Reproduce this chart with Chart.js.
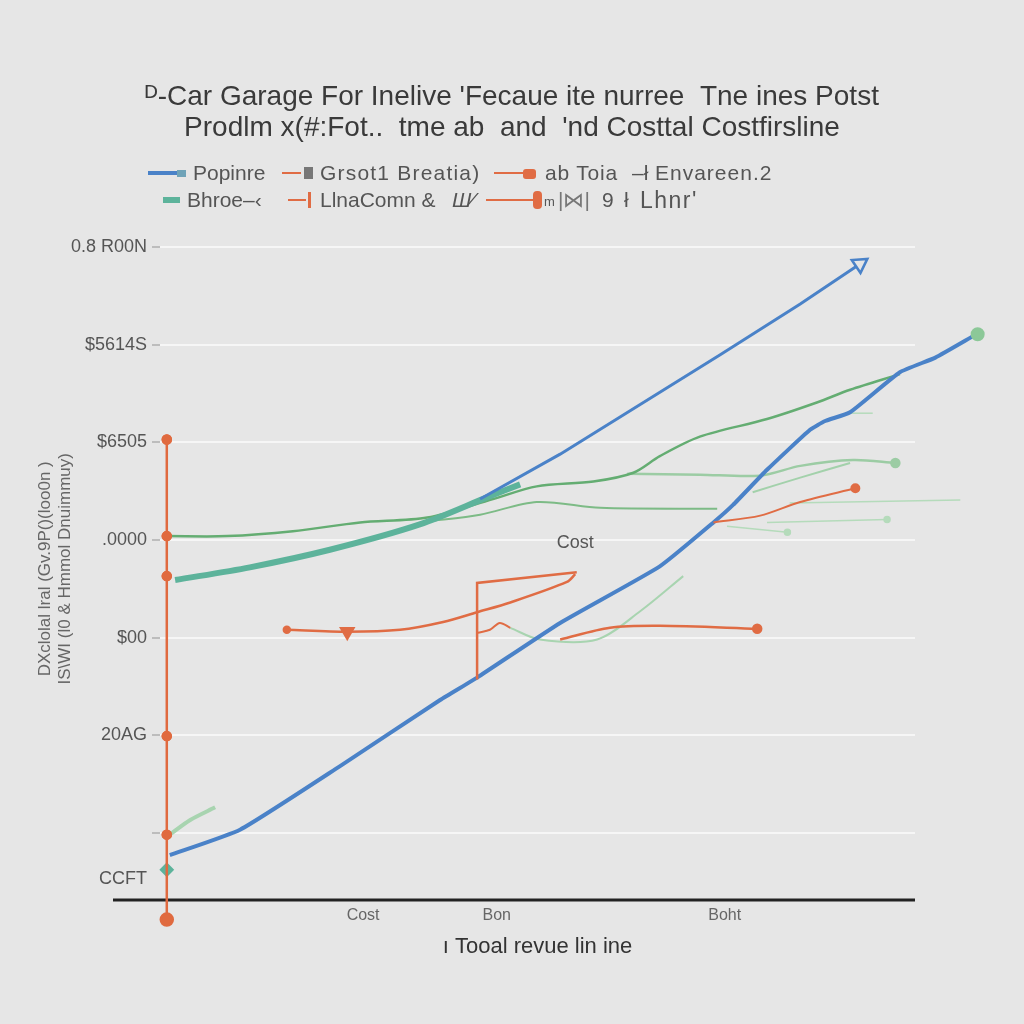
<!DOCTYPE html>
<html>
<head>
<meta charset="utf-8">
<script src="https://cdn.jsdelivr.net/npm/chart.js@4.4.1/dist/chart.umd.min.js"></script>
<style>
  body { margin: 0; background: #e6e6e6; }
  #wrap { position: relative; width: 1024px; height: 1024px; }
  #legend { position: absolute; left: 0; top: 0; font-family: "Liberation Sans", Arial, sans-serif; font-size: 21px; color: #555; }
  #legend span { position: absolute; white-space: nowrap; line-height: 26px; }
  #legend .sw { display: block; }
</style>
</head>
<body>
<div id="wrap">
  <canvas id="chartCanvas" width="1024" height="1024"></canvas>
  <div id="legend">
    <!-- row 1 -->
    <span class="sw" style="left:148px;top:171px;width:30px;height:4px;background:#4a82c8"></span>
    <span class="sw" style="left:177px;top:170px;width:9px;height:7px;background:#6fa3b8"></span>
    <span style="left:193px;top:160px">Popinre</span>
    <span class="sw" style="left:282px;top:172px;width:19px;height:2px;background:#e06c44"></span>
    <span class="sw" style="left:304px;top:167px;width:9px;height:12px;background:#777"></span>
    <span style="left:320px;top:160px;letter-spacing:1.2px">Grsot1 Breatia)</span>
    <span class="sw" style="left:494px;top:172px;width:31px;height:2px;background:#e06c44"></span>
    <span class="sw" style="left:523px;top:169px;width:13px;height:10px;background:#e06c44;border-radius:3px"></span>
    <span style="left:545px;top:160px;letter-spacing:0.8px">ab Toia</span>
    <span style="left:632px;top:160px">–ł</span>
    <span style="left:655px;top:160px;letter-spacing:1px">Envareen.2</span>
    <!-- row 2 -->
    <span class="sw" style="left:163px;top:197px;width:17px;height:6px;background:#5db39b"></span>
    <span style="left:187px;top:187px">Bhroe–‹</span>
    <span class="sw" style="left:288px;top:199px;width:18px;height:2px;background:#e06c44"></span>
    <span class="sw" style="left:308px;top:192px;width:3px;height:16px;background:#e06c44"></span>
    <span style="left:320px;top:187px">LlnaComn &amp;</span>
    <span style="left:452px;top:187px;font-style:italic">Ш⁄</span>
    <span class="sw" style="left:486px;top:199px;width:48px;height:2px;background:#e06c44"></span>
    <span class="sw" style="left:533px;top:191px;width:9px;height:18px;background:#e06c44;border-radius:4px"></span>
    <span style="left:544px;top:189px;font-size:13px">m</span>
    <span style="left:558px;top:187px;font-weight:100;color:#777">|⋈|</span>
    <span style="left:602px;top:187px">9</span>
    <span style="left:624px;top:187px">ł</span>
    <span style="left:640px;top:187px;font-size:23px;letter-spacing:1.5px">Lhnr'</span>
  </div>
</div>
<script>
// ---- chart text ----
const titleLines = ["ᴰ‐Car Garage For Inelive 'Fecaue ite nurree  Tne ines Potst", "Prodlm x(#:Fot..  tme ab  and  'nd Costtal Costfirsline"];
const xTitle = "ı Tooal revue lin ine";
const yTitleLines = ["DXclolal lral (Gv.9P()(loo0n )", "IS\\WI (l0 & Hmmol Dnuimmuy)"];

// ---- tick labels ----
const xTickValues = [26.9, 44.6, 74.8];
const xTickLabels = ["Cost", "Bon", "Boht"];
const yTickValues = [-0.48, 0, 1, 2, 3, 4, 5, 6];
const yTickLabels = ["CCFT", "", "20AG", "$00", ".0000", "$6505", "$5614S", "0.8 R00N"];
const costNote = { text: "Cost", x: 55.0, y: 2.97 };

// ---- series values [x, y] ----
const blueArrow = [[42.4, 3.42], [53.0, 3.88], [63.6, 4.39], [74.2, 4.90], [84.8, 5.42], [92.7, 5.83]];
const blueRevenue = [[1.3, -0.23], [10.6, 0.03], [23.8, 0.68], [37.1, 1.36], [42.0, 1.59], [53.0, 2.15], [66.2, 2.73],
  [73.3, 3.18], [75.9, 3.36], [80.4, 3.72], [86.1, 4.13], [88.1, 4.22], [91.4, 4.31], [98.0, 4.72], [102.7, 4.87], [107.7, 5.09]];
const tealCost = [[2.0, 2.59], [11.9, 2.72], [22.5, 2.90], [34.4, 3.16], [43.7, 3.45], [47.7, 3.57]];
const greenMain = [[0.9, 3.04], [8.9, 3.04], [17.6, 3.09], [26.5, 3.18], [35.4, 3.23], [44.1, 3.42], [49.9, 3.55],
  [57.4, 3.60], [62.7, 3.69], [66.2, 3.86], [71.5, 4.06], [80.4, 4.24], [87.0, 4.41], [91.4, 4.54], [98.0, 4.70]];
const greenSecond = [[35.4, 3.19], [42.4, 3.26], [49.9, 3.39], [58.3, 3.33], [73.8, 3.32]];
const greenFlat = [[61.9, 3.68], [71.5, 3.67], [79.5, 3.66], [84.8, 3.76], [91.8, 3.82], [97.4, 3.79]];
const greenRise = [[78.5, 3.49], [84.8, 3.64], [91.4, 3.79]];
const faintA = [[80.4, 3.18], [96.3, 3.21]];
const faintB = [[83.4, 3.38], [106.0, 3.41]];
const faintC = [[75.1, 3.14], [83.1, 3.08]];
const faintD = [[91.4, 4.30], [94.4, 4.30]];
const faintLow = [[46.4, 2.10], [50.3, 1.98], [57.9, 1.98], [63.6, 2.27], [69.3, 2.63]];
const greenStub = [[1.3, -0.02], [4.0, 0.13], [7.3, 0.26]];
const greenEnd = [[108.3, 5.11]];
const tealDot = [[0.9, -0.38]];
const orangeRight = [[73.3, 3.18], [79.5, 3.25], [84.8, 3.39], [92.1, 3.53]];
const orangeMid = [[16.8, 2.08], [24.8, 2.06], [31.8, 2.08], [37.5, 2.16], [42.0, 2.26], [46.4, 2.36], [53.9, 2.57], [55.0, 2.65]];
const orangeBracket = [[42.0, 1.57], [42.0, 2.56], [55.2, 2.67]];
const orangeKink = [[42.1, 2.05], [43.7, 2.08], [45.0, 2.15], [46.4, 2.10]];
const orangeLow = [[53.0, 1.98], [59.6, 2.10], [66.2, 2.12], [79.1, 2.09]];
const orangeAxis = [[0.9, 4.03], [0.9, 3.04], [0.9, 2.63], [0.9, 0.99], [0.9, -0.02], [0.9, -0.89]];

function series(points, color, width, extra) {
  return Object.assign({
    data: points.map(p => ({ x: p[0], y: p[1] })),
    borderColor: color,
    backgroundColor: color,
    borderWidth: width,
    pointRadius: 0,
    tension: 0.3,
    clip: false,
    fill: false
  }, extra || {});
}

const lastOnly = (n, r) => ctx => ctx.dataIndex === n - 1 ? r : 0;

const datasets = [
  series(orangeAxis, "#e06a3f", 2.5, { tension: 0, overflow: true, pointRadius: ctx => ctx.dataIndex === 5 ? 6 : 4 }),
  series(tealDot, "#5db39b", 2, { showLine: false, pointStyle: "rectRot", pointRadius: 6 }),
  series(orangeBracket, "#e06c44", 2.5, { tension: 0 }),
  series(orangeMid, "#e06c44", 2.5, {
    pointRadius: ctx => ctx.dataIndex === 1 ? 7 : (ctx.dataIndex === 0 ? 3 : 0),
    pointStyle: ctx => ctx.dataIndex === 1 ? "triangle" : "circle",
    pointRotation: ctx => ctx.dataIndex === 1 ? 180 : 0
  }),
  series(orangeKink, "#e06c44", 2),
  series(orangeLow, "#e06c44", 2.5, { pointRadius: lastOnly(orangeLow.length, 4) }),
  series(orangeRight, "#e06c44", 2, { pointRadius: lastOnly(orangeRight.length, 4) }),
  series(blueArrow, "#4a82c8", 3, {
    tension: 0,
    pointRadius: lastOnly(blueArrow.length, 9),
    pointStyle: "triangle",
    pointRotation: 56,
    pointBackgroundColor: "#e6e6e6",
    pointBorderWidth: 2.5
  }),
  series(blueRevenue, "#4a82c8", 4, { tension: 0.15 }),
  series(tealCost, "#5db39b", 6),
  series(greenMain, "#64ad72", 2.5),
  series(greenSecond, "#7dbb86", 2),
  series(greenFlat, "#9ccca4", 2.5, { pointRadius: lastOnly(greenFlat.length, 4) }),
  series(greenRise, "#a3d1ab", 2),
  series(faintA, "#b5dbbb", 1.5, { pointRadius: lastOnly(2, 3) }),
  series(faintB, "#b5dbbb", 1.5),
  series(faintC, "#b5dbbb", 1.5, { pointRadius: lastOnly(2, 3) }),
  series(faintD, "#b5dbbb", 1.5),
  series(faintLow, "#a8d4b0", 2),
  series(greenStub, "#a8d4b0", 4),
  series(greenEnd, "#8cc898", 2, { showLine: false, overflow: true, pointRadius: 6 })
];

const extras = {
  id: "extras",
  beforeDatasetsDraw(chart) {
    const { ctx, chartArea, scales: { y } } = chart;
    const yb = y.getPixelForValue(-0.69);
    ctx.save();
    ctx.strokeStyle = "#222";
    ctx.lineWidth = 3;
    ctx.beginPath();
    ctx.moveTo(113, yb);
    ctx.lineTo(chartArea.right, yb);
    ctx.stroke();
    ctx.restore();
  },
  afterDatasetsDraw(chart) {
    const { ctx, scales: { x, y } } = chart;
    // points that sit past the plot edge are skipped by Chart.js, draw them again
    chart.data.datasets.forEach((ds, i) => {
      if (!ds.overflow) return;
      chart.getDatasetMeta(i).data.forEach(pt => pt.draw(ctx));
    });
    ctx.save();
    ctx.font = '18px "Liberation Sans"';
    ctx.fillStyle = "#555";
    ctx.textAlign = "center";
    ctx.textBaseline = "middle";
    ctx.fillText(costNote.text, x.getPixelForValue(costNote.x), y.getPixelForValue(costNote.y));
    ctx.restore();
  }
};

new Chart(document.getElementById("chartCanvas"), {
  type: "line",
  data: { datasets },
  plugins: [extras],
  options: {
    responsive: false,
    animation: false,
    layout: { padding: { top: 82, left: 35, right: 35, bottom: 64 } },
    plugins: {
      legend: { display: false },
      tooltip: { enabled: false },
      title: {
        display: true,
        text: titleLines,
        color: "#3a3a3a",
        font: { family: "Liberation Sans", size: 28, weight: "normal", lineHeight: 1.1 },
        padding: { top: 0, bottom: 94 }
      }
    },
    scales: {
      x: {
        type: "linear",
        min: 0,
        bounds: "data",
        afterDataLimits(s) { s.max = 100; },
        afterBuildTicks(s) { s.ticks = xTickValues.map(v => ({ value: v })); },
        afterFit(s) { s.height = 60; },
        ticks: {
          autoSkip: false,
          maxRotation: 0,
          padding: 6,
          color: "#666",
          font: { family: "Liberation Sans", size: 16 },
          callback: (v, i) => xTickLabels[i]
        },
        grid: { display: false, drawTicks: false },
        border: { display: false },
        title: {
          display: true,
          text: xTitle,
          color: "#333",
          font: { family: "Liberation Sans", size: 22 },
          padding: 0
        }
      },
      y: {
        type: "linear",
        min: -0.69,
        max: 6.1,
        afterBuildTicks(s) { s.ticks = yTickValues.map(v => ({ value: v })); },
        afterFit(s) { s.width = 125; },
        ticks: {
          autoSkip: false,
          padding: 5,
          color: "#555",
          font: { family: "Liberation Sans", size: 18 },
          callback: (v, i) => yTickLabels[i]
        },
        grid: {
          color: ctx => (ctx.tick && ctx.tick.value < 0) ? "rgba(0,0,0,0)" : "#f6f6f6",
          lineWidth: 2,
          tickLength: 8,
          tickColor: ctx => (ctx.tick && ctx.tick.value < 0) ? "rgba(0,0,0,0)" : "#bdbdbd"
        },
        border: { display: false },
        title: {
          display: true,
          text: yTitleLines,
          color: "#666",
          font: { family: "Liberation Sans", size: 17 },
          padding: 0
        }
      },
      // empty right-hand axis, only keeps room so the plot ends where the original does
      yRight: {
        type: "linear",
        position: "right",
        afterFit(s) { s.width = 74; },
        ticks: { display: false },
        grid: { display: false, drawTicks: false },
        border: { display: false }
      }
    }
  }
});
</script>
</body>
</html>
